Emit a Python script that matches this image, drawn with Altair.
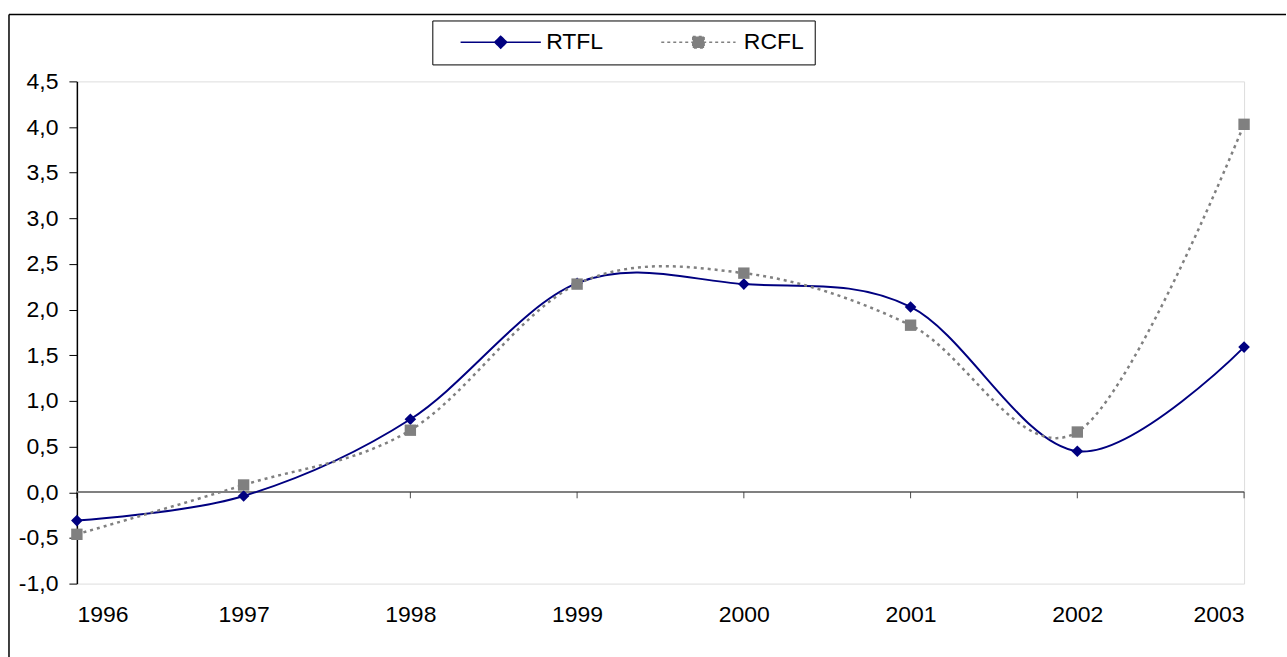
import altair as alt
import pandas as pd

years = [1996, 1997, 1998, 1999, 2000, 2001, 2002, 2003]
rtfl = [-0.31, -0.04, 0.80, 2.29, 2.28, 2.03, 0.45, 1.59]
rcfl = [-0.46, 0.08, 0.68, 2.28, 2.40, 1.83, 0.66, 4.03]
series_names = ["RTFL", "RCFL"]
series_colors = ["#000080", "#808080"]
y_ticks = [-1.0, -0.5, 0.0, 0.5, 1.0, 1.5, 2.0, 2.5, 3.0, 3.5, 4.0, 4.5]

df = pd.DataFrame({
    "year": years * 2,
    "value": rtfl + rcfl,
    "series": ["RTFL"] * len(years) + ["RCFL"] * len(years),
})
years_df = pd.DataFrame({"year": years, "zero": [0.0] * len(years)})

W, H = 1169, 503
FONT = "Liberation Sans"
FS = 23

xs = alt.X("year:Q", scale=alt.Scale(domain=[1996, 2003], nice=False, zero=False),
           axis=alt.Axis(values=years, format="d", title=None, domain=False, ticks=False,
                         grid=False, labelFontSize=FS, labelPadding=20, labelColor="black",
                         labelFont=FONT))
ys = alt.Y("value:Q", scale=alt.Scale(domain=[-1.0, 4.5], nice=False, zero=False),
           axis=alt.Axis(values=y_ticks, title=None, grid=False, domainColor="black",
                         domainWidth=1.5, tickColor="black", tickSize=8, tickWidth=1,
                         labelFontSize=FS, labelPadding=11, labelColor="black", labelFont=FONT,
                         labelExpr="(datum.value < 0 ? '-' : '') + replace(format(abs(datum.value), '.1f'), '.', ',')"))

base = alt.Chart(df)

# outer frame (left and top edges; right/bottom lie outside the window)
one = pd.DataFrame({"k": [0]})
frame_top = alt.Chart(one).mark_rule(color="black", strokeWidth=1.5).encode(
    x=alt.value(-68), x2=alt.value(1211), y=alt.value(-67)
)
frame_left = alt.Chart(one).mark_rule(color="black", strokeWidth=1.5).encode(
    x=alt.value(-68), y=alt.value(-67), y2=alt.value(577)
)

zero_rule = alt.Chart(years_df).mark_rule(color="#808080", strokeWidth=1.5).encode(
    y=alt.Y("zero:Q", scale=alt.Scale(domain=[-1.0, 4.5], nice=False, zero=False)),
)
zero_ticks = alt.Chart(years_df).mark_point(shape="M0,0L0,1", size=144, stroke="black",
                                              strokeWidth=1, filled=False).encode(
    x=alt.X("year:Q"), y=alt.Y("zero:Q"),
)

line_rtfl = base.transform_filter("datum.series == 'RTFL'").mark_line(
    interpolate="cardinal", color="#000080", strokeWidth=2).encode(x=xs, y=ys)
line_rcfl = base.transform_filter("datum.series == 'RCFL'").mark_line(
    interpolate="cardinal", color="#808080", strokeWidth=2.5, strokeDash=[3, 4]).encode(x=xs, y=ys)
pts_rtfl = base.transform_filter("datum.series == 'RTFL'").mark_point(
    shape="diamond", size=135, filled=True, color="#000080", opacity=1).encode(x=xs, y=ys)
pts_rcfl = base.transform_filter("datum.series == 'RCFL'").mark_point(
    shape="square", size=130, filled=True, color="#808080", opacity=1).encode(x=xs, y=ys)

legend_paths = [
    "M-6.7,0H6.7M0,-1L1,0L0,1L-1,0Z",
    "M-6.2,0H6.2M-0.95,-0.95H0.95V0.95H-0.95Z",
]
leg = alt.Legend(title=None, orient="none", legendX=356, legendY=-61, direction="horizontal",
                 strokeColor="black", fillColor="white", padding=10, symbolSize=144,
                 symbolStrokeWidth=1.5, labelFontSize=FS, labelFont=FONT, labelColor="black",
                 labelOffset=34, columnPadding=36, symbolOffset=47,
                 labelExpr="datum.label == 'RCFL' ? datum.label + '\u00a0\u00a0\u00a0\u00a0\u00a0' : datum.label")
legend_layer = base.transform_filter("false").mark_point(filled=False, opacity=1).encode(
    x=xs, y=ys,
    stroke=alt.Stroke("series:N", scale=alt.Scale(domain=series_names, range=series_colors), legend=leg),
    fill=alt.Fill("series:N", scale=alt.Scale(domain=series_names, range=series_colors), legend=leg),
    shape=alt.Shape("series:N", scale=alt.Scale(domain=series_names, range=legend_paths), legend=leg),
    strokeDash=alt.StrokeDash("series:N", scale=alt.Scale(domain=series_names, range=[[1, 0], [3, 3]]), legend=leg),
)

chart = alt.layer(frame_top, frame_left, zero_rule, zero_ticks, line_rtfl, line_rcfl,
                  pts_rtfl, pts_rcfl, legend_layer).properties(
    width=W, height=H, padding={"left": 8, "top": 13, "right": 0, "bottom": 0}
).configure_view(stroke="#808080", strokeWidth=1.5).configure(background="white")

chart.save("out.html", embed_options={"renderer": "svg", "actions": False})
